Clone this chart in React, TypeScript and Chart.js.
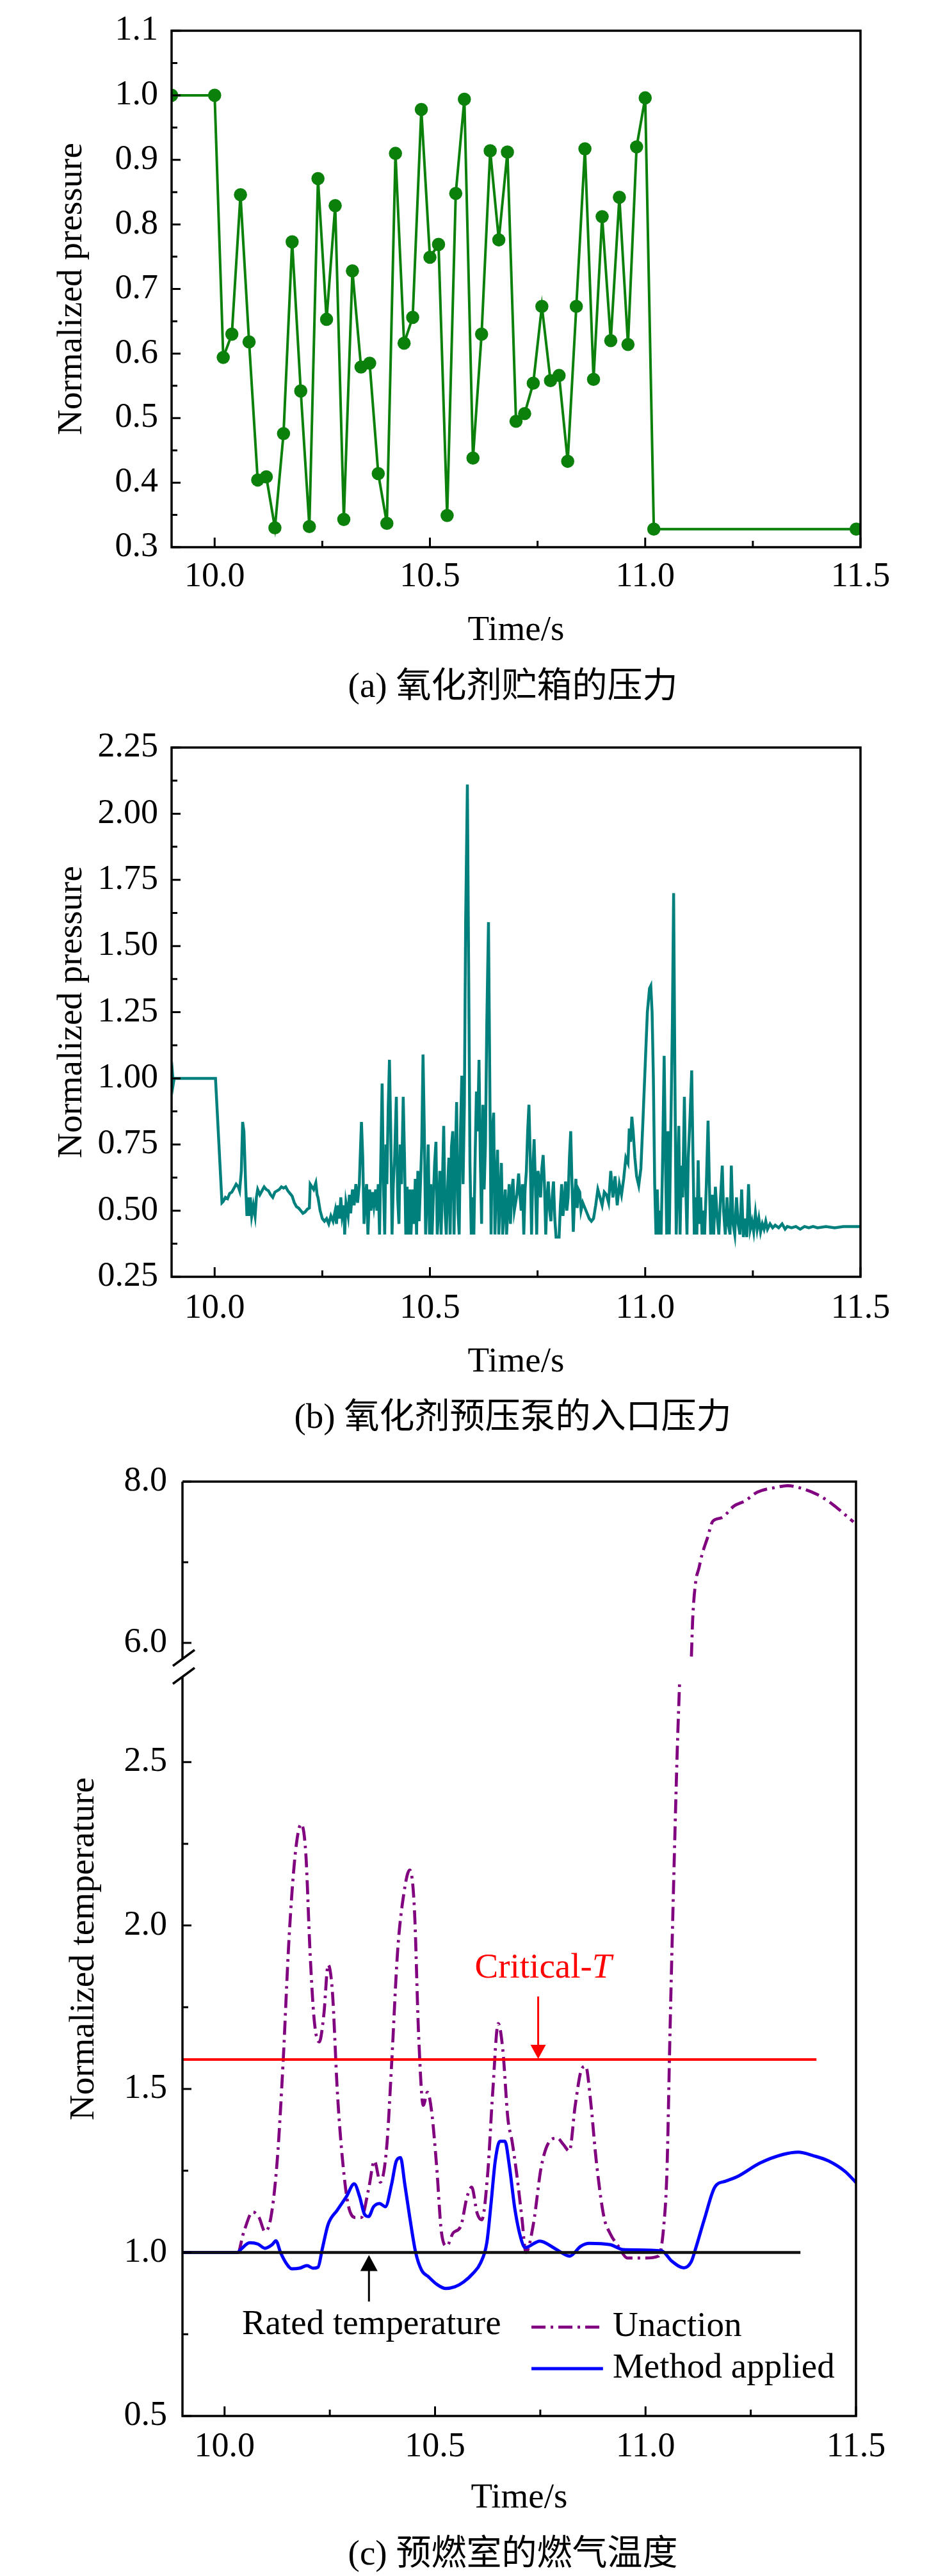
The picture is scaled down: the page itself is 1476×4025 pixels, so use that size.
import React, { useEffect, useRef } from 'react';
import { Chart, registerables } from 'chart.js';

Chart.register(...registerables);

const SERIF = '"Liberation Serif", "Times New Roman", serif';
const CAPTION_FONT = '"Liberation Serif", "Noto Sans CJK SC", serif';

const GREEN = '#0b800b';
const TEAL = '#00807d';
const PURPLE = '#800080';
const BLUE = '#0000ff';
const RED = '#ff0000';

// shared time axis
const TIME_MIN = 9.9;
const TIME_MAX = 11.5;
const timeTicks = [10.0, 10.5, 11.0, 11.5];
const timeMinorTicks = [10.25, 10.75, 11.25];

// (a) oxidizer tank pressure
const tankTime = [
  9.9, 10.0, 10.02, 10.04, 10.06, 10.08, 10.1, 10.12, 10.14, 10.16,
  10.18, 10.2, 10.22, 10.24, 10.26, 10.28, 10.3, 10.32, 10.34, 10.36,
  10.38, 10.4, 10.42, 10.44, 10.46, 10.48, 10.5, 10.52, 10.54, 10.56,
  10.58, 10.6, 10.62, 10.64, 10.66, 10.68, 10.7, 10.72, 10.74, 10.76,
  10.78, 10.8, 10.82, 10.84, 10.86, 10.88, 10.9, 10.92, 10.94, 10.96,
  10.98, 11.0, 11.02, 11.49,
];
const tankPressure = [
  1.0, 1.0, 0.594, 0.63, 0.846, 0.618, 0.404, 0.409, 0.33, 0.476,
  0.773, 0.542, 0.332, 0.871, 0.653, 0.829, 0.343, 0.728, 0.579, 0.585,
  0.414, 0.337, 0.91, 0.616, 0.656, 0.978, 0.749, 0.769, 0.349, 0.848,
  0.994, 0.438, 0.63, 0.914, 0.776, 0.912, 0.495, 0.507, 0.554, 0.673,
  0.558, 0.566, 0.433, 0.673, 0.917, 0.56, 0.812, 0.62, 0.842, 0.614,
  0.92, 0.996, 0.328, 0.328,
];
const tankTicks = [0.3, 0.4, 0.5, 0.6, 0.7, 0.8, 0.9, 1.0, 1.1];
const tankMinorTicks = [0.35, 0.45, 0.55, 0.65, 0.75, 0.85, 0.95, 1.05];

// (b) oxidizer booster pump inlet pressure
const pumpTime = [
  9.9, 9.902, 9.904, 9.906, 10.002, 10.017, 10.02, 10.025, 10.03, 10.035,
  10.04, 10.045, 10.05, 10.055, 10.058, 10.062, 10.065, 10.068, 10.072, 10.075,
  10.078, 10.08, 10.083, 10.086, 10.09, 10.094, 10.097, 10.1, 10.105, 10.11,
  10.115, 10.12, 10.125, 10.13, 10.135, 10.14, 10.145, 10.15, 10.155, 10.16,
  10.165, 10.17, 10.175, 10.18, 10.185, 10.19, 10.195, 10.2, 10.205, 10.21,
  10.215, 10.22, 10.222, 10.226, 10.23, 10.235, 10.238, 10.24, 10.245, 10.25,
  10.255, 10.26, 10.265, 10.27, 10.275, 10.28, 10.283, 10.286, 10.29, 10.293,
  10.296, 10.3, 10.302, 10.305, 10.31, 10.313, 10.316, 10.32, 10.324, 10.328,
  10.332, 10.336, 10.338, 10.341, 10.344, 10.347, 10.35, 10.353, 10.356, 10.36,
  10.363, 10.367, 10.37, 10.374, 10.377, 10.38, 10.383, 10.386, 10.389, 10.392,
  10.395, 10.398, 10.4, 10.403, 10.406, 10.409, 10.412, 10.415, 10.418, 10.422,
  10.425, 10.428, 10.431, 10.434, 10.438, 10.441, 10.444, 10.447, 10.45, 10.453,
  10.456, 10.46, 10.463, 10.466, 10.469, 10.472, 10.475, 10.478, 10.481, 10.484,
  10.487, 10.49, 10.493, 10.496, 10.499, 10.502, 10.505, 10.508, 10.511, 10.514,
  10.517, 10.52, 10.523, 10.526, 10.529, 10.532, 10.535, 10.538, 10.541, 10.544,
  10.547, 10.55, 10.553, 10.556, 10.559, 10.562, 10.565, 10.568, 10.571, 10.574,
  10.577, 10.58, 10.583, 10.587, 10.59, 10.593, 10.596, 10.599, 10.602, 10.605,
  10.608, 10.611, 10.614, 10.617, 10.62, 10.623, 10.626, 10.629, 10.632, 10.636,
  10.639, 10.642, 10.645, 10.648, 10.651, 10.654, 10.657, 10.66, 10.663, 10.666,
  10.669, 10.672, 10.675, 10.678, 10.681, 10.684, 10.687, 10.69, 10.693, 10.696,
  10.699, 10.702, 10.706, 10.709, 10.712, 10.715, 10.718, 10.721, 10.724, 10.727,
  10.73, 10.733, 10.736, 10.739, 10.742, 10.745, 10.748, 10.751, 10.754, 10.757,
  10.76, 10.763, 10.766, 10.769, 10.772, 10.775, 10.778, 10.781, 10.784, 10.787,
  10.79, 10.793, 10.797, 10.8, 10.803, 10.806, 10.809, 10.812, 10.815, 10.818,
  10.821, 10.824, 10.827, 10.83, 10.833, 10.836, 10.839, 10.842, 10.845, 10.848,
  10.851, 10.855, 10.86, 10.865, 10.87, 10.875, 10.88, 10.885, 10.89, 10.895,
  10.9, 10.905, 10.91, 10.915, 10.92, 10.925, 10.93, 10.935, 10.94, 10.945,
  10.95, 10.955, 10.96, 10.963, 10.966, 10.969, 10.972, 10.976, 10.98, 10.985,
  10.99, 10.995, 11.0, 11.005, 11.01, 11.013, 11.016, 11.019, 11.022, 11.025,
  11.028, 11.031, 11.034, 11.037, 11.04, 11.044, 11.047, 11.05, 11.053, 11.056,
  11.059, 11.063, 11.066, 11.069, 11.072, 11.075, 11.078, 11.081, 11.084, 11.087,
  11.091, 11.094, 11.097, 11.1, 11.104, 11.108, 11.111, 11.114, 11.117, 11.12,
  11.123, 11.126, 11.129, 11.132, 11.135, 11.138, 11.142, 11.146, 11.149, 11.152,
  11.156, 11.159, 11.163, 11.167, 11.171, 11.175, 11.179, 11.182, 11.186, 11.19,
  11.193, 11.197, 11.2, 11.204, 11.208, 11.212, 11.216, 11.22, 11.224, 11.228,
  11.232, 11.236, 11.24, 11.244, 11.248, 11.252, 11.256, 11.26, 11.264, 11.268,
  11.272, 11.276, 11.28, 11.284, 11.29, 11.296, 11.302, 11.31, 11.318, 11.325,
  11.33, 11.34, 11.35, 11.36, 11.37, 11.38, 11.39, 11.4, 11.42, 11.44,
  11.46, 11.48, 11.5,
];
const pumpPressure = [
  1.0, 1.02, 0.98, 1.0, 1.0, 0.53, 0.535, 0.55, 0.545, 0.565,
  0.57, 0.585, 0.6, 0.59, 0.575, 0.65, 0.835, 0.8, 0.6, 0.48,
  0.55, 0.48, 0.55, 0.48, 0.52, 0.48, 0.55, 0.58, 0.56, 0.575,
  0.59, 0.58, 0.575, 0.56, 0.55, 0.57, 0.575, 0.58, 0.59, 0.585,
  0.59, 0.575, 0.565, 0.555, 0.53, 0.515, 0.51, 0.5, 0.49, 0.495,
  0.505, 0.51, 0.6, 0.59, 0.58, 0.605, 0.56, 0.55, 0.5, 0.47,
  0.46, 0.47, 0.45, 0.48, 0.46, 0.5, 0.45, 0.52, 0.47, 0.55,
  0.48, 0.52, 0.41, 0.53, 0.48, 0.56, 0.49, 0.58, 0.52, 0.6,
  0.53, 0.6, 0.7, 0.835, 0.7, 0.45, 0.55, 0.6, 0.41, 0.58,
  0.5, 0.57, 0.52, 0.58, 0.5, 0.6, 0.41, 0.7, 0.98, 0.6,
  0.41, 0.75, 0.6, 0.88, 1.07, 0.8, 0.41, 0.6, 0.7, 0.93,
  0.55, 0.45, 0.75, 0.6, 0.93, 0.7, 0.41, 0.59, 0.41, 0.58,
  0.41, 0.58, 0.45, 0.62, 0.41, 0.65, 0.46, 0.6, 0.75, 1.09,
  0.8, 0.41, 0.55, 0.75, 0.41, 0.6, 0.41, 0.55, 0.68, 0.76,
  0.41, 0.5, 0.65, 0.41, 0.6, 0.82, 0.5, 0.41, 0.58, 0.7,
  0.41, 0.74, 0.8, 0.41, 0.7, 0.91, 0.5, 0.41, 0.8, 1.01,
  0.6, 0.9, 1.6, 2.11, 1.4, 0.68, 0.41, 0.55, 0.41, 0.7,
  0.95, 0.8, 1.07, 0.7, 0.45, 0.9, 0.58, 0.75, 1.2, 1.59,
  1.0, 0.41, 0.8, 0.87, 0.41, 0.6, 0.73, 0.41, 0.55, 0.68,
  0.41, 0.5, 0.58, 0.41, 0.5, 0.6, 0.45, 0.57, 0.62, 0.5,
  0.53, 0.56, 0.64, 0.56, 0.5, 0.6, 0.41, 0.58, 0.65, 0.8,
  0.9, 0.7, 0.41, 0.65, 0.77, 0.6, 0.41, 0.65, 0.62, 0.55,
  0.66, 0.71, 0.6, 0.41, 0.55, 0.61, 0.5, 0.46, 0.55, 0.61,
  0.47, 0.4, 0.4, 0.4, 0.52, 0.6, 0.48, 0.53, 0.61, 0.5,
  0.55, 0.7, 0.8, 0.6, 0.42, 0.55, 0.62, 0.51, 0.58, 0.57,
  0.5, 0.53, 0.51, 0.49, 0.47, 0.46, 0.47, 0.52, 0.58, 0.55,
  0.52, 0.57, 0.56, 0.53, 0.65, 0.55, 0.63, 0.52, 0.6, 0.56,
  0.62, 0.7, 0.68, 0.81, 0.76, 0.855, 0.8, 0.7, 0.63, 0.595,
  0.66, 0.85, 1.05, 1.25, 1.34, 1.35, 1.25, 1.0, 0.6, 0.41,
  0.58, 0.41, 0.5, 0.41, 0.65, 1.085, 0.7, 0.41, 0.8, 0.41,
  0.75, 1.2, 1.7, 1.0, 0.41, 0.6, 0.82, 0.41, 0.67, 0.55,
  0.93, 0.6, 0.41, 0.7, 0.85, 1.03, 0.7, 0.41, 0.55, 0.41,
  0.69, 0.45, 0.55, 0.41, 0.5, 0.41, 0.6, 0.84, 0.6, 0.41,
  0.56, 0.41, 0.59, 0.48, 0.41, 0.55, 0.67, 0.5, 0.41, 0.55,
  0.45, 0.41, 0.67, 0.45, 0.41, 0.55, 0.45, 0.41, 0.58, 0.4,
  0.47, 0.4, 0.6, 0.43, 0.46, 0.42, 0.49, 0.43, 0.47, 0.42,
  0.45, 0.43, 0.46, 0.43, 0.45, 0.435, 0.445, 0.435, 0.45, 0.43,
  0.44, 0.435, 0.44, 0.43, 0.44, 0.435, 0.44, 0.435, 0.44, 0.435,
  0.44, 0.44, 0.44,
];
const pumpTicks = [0.25, 0.5, 0.75, 1.0, 1.25, 1.5, 1.75, 2.0, 2.25];
const pumpMinorTicks = [0.375, 0.625, 0.875, 1.125, 1.375, 1.625, 1.875, 2.125];

// (c) pre-burner gas temperature
const unactionTime = [
  9.9, 10.031, 10.046, 10.067, 10.082, 10.096, 10.11, 10.125, 10.139, 10.153,
  10.168, 10.182, 10.193, 10.203, 10.213, 10.225, 10.236, 10.246, 10.256, 10.268,
  10.279, 10.293, 10.311, 10.325, 10.342, 10.356, 10.37, 10.385, 10.397, 10.411,
  10.425, 10.44, 10.451, 10.461, 10.472, 10.482, 10.492, 10.504, 10.515, 10.528,
  10.543, 10.561, 10.576, 10.587, 10.6, 10.611, 10.625, 10.637, 10.65, 10.661,
  10.673, 10.683, 10.694, 10.706, 10.716, 10.734, 10.752, 10.772, 10.79, 10.805,
  10.819, 10.833, 10.848, 10.858, 10.869, 10.883, 10.901, 10.916, 10.935, 10.957,
  10.995, 11.031, 11.043, 11.051, 11.058, 11.066, 11.075, 11.081, 11.109, 11.112,
  11.119, 11.127, 11.134, 11.147, 11.16, 11.18, 11.211, 11.236, 11.266, 11.312,
  11.337, 11.368, 11.408, 11.444, 11.474, 11.494,
];
const unactionTemp = [
  1.0, 1.0, 1.064, 1.124, 1.107, 1.064, 1.107, 1.28, 1.58, 1.957,
  2.22, 2.31, 2.22, 1.92, 1.71, 1.644, 1.73, 1.88, 1.8, 1.49,
  1.3, 1.15, 1.107, 1.107, 1.193, 1.28, 1.215, 1.32, 1.58, 1.92,
  2.09, 2.17, 2.05, 1.665, 1.45, 1.49, 1.43, 1.26, 1.064, 1.02,
  1.06, 1.08, 1.17, 1.2, 1.12, 1.1, 1.24, 1.49, 1.7, 1.62,
  1.41, 1.34, 1.24, 1.11, 1.0, 1.09, 1.26, 1.34, 1.35, 1.33,
  1.31, 1.45, 1.56, 1.57, 1.47, 1.28, 1.11, 1.058, 1.02, 0.983,
  0.983, 0.989, 1.077, 1.253, 1.665, 2.09, 2.52, 2.747, 5.83, 6.29,
  6.75, 6.93, 7.09, 7.3, 7.51, 7.55, 7.7, 7.76, 7.87, 7.93,
  7.95, 7.92, 7.84, 7.72, 7.59, 7.5,
];
const methodTime = [
  9.9, 10.031, 10.039, 10.06, 10.079, 10.096, 10.113, 10.122, 10.133, 10.146,
  10.16, 10.178, 10.196, 10.21, 10.222, 10.232, 10.246, 10.268, 10.289, 10.308,
  10.321, 10.332, 10.342, 10.354, 10.368, 10.382, 10.397, 10.408, 10.418, 10.428,
  10.44, 10.454, 10.468, 10.485, 10.504, 10.525, 10.547, 10.568, 10.59, 10.608,
  10.623, 10.633, 10.643, 10.654, 10.666, 10.676, 10.69, 10.704, 10.714, 10.749,
  10.785, 10.82, 10.846, 10.866, 10.916, 10.947, 11.038, 11.063, 11.091, 11.109,
  11.119, 11.14, 11.165, 11.19, 11.221, 11.271, 11.327, 11.363, 11.399, 11.435,
  11.474, 11.5,
];
const methodTemp = [
  1.0, 1.0, 1.01, 1.03, 1.026, 1.013, 1.024, 1.036, 1.0, 0.968,
  0.95, 0.952, 0.96, 0.952, 0.955, 1.01, 1.086, 1.13, 1.17, 1.21,
  1.17, 1.118, 1.11, 1.14, 1.15, 1.14, 1.21, 1.28, 1.29, 1.21,
  1.107, 1.0, 0.946, 0.925, 0.903, 0.89, 0.895, 0.91, 0.936, 0.968,
  1.03, 1.15, 1.28, 1.34, 1.34, 1.27, 1.13, 1.043, 1.015, 1.035,
  1.012, 0.989, 1.019, 1.028, 1.024, 1.009, 1.005, 0.973, 0.953, 0.973,
  1.012, 1.103, 1.201, 1.218, 1.234, 1.273, 1.3, 1.307, 1.296, 1.28,
  1.248, 1.214,
];
const criticalTime = [9.9, 11.406];
const criticalTemp = [1.59, 1.59];
const ratedTime = [9.9, 11.368];
const ratedTemp = [1.0, 1.0];
const tempLowTicks = [0.5, 1.0, 1.5, 2.0, 2.5];
const tempLowMinorTicks = [0.75, 1.25, 1.75, 2.25];
const tempHighTicks = [6.0, 8.0];
const tempHighMinorTicks = [7.0];
const TEMP_LOW_MAX = 2.788;
const TEMP_HIGH_MIN = 5.69;

const pts = (xs: number[], ys: number[]) => xs.map((x, i) => ({ x, y: ys[i] }));

const tickFont = { family: SERIF, size: 54, lineHeight: 1 };
const titleFont = { family: SERIF, size: 55, lineHeight: 1.2 };

const timeAxis = (labelPad: number, titlePad: number, height: number) => ({
  type: 'linear',
  min: TIME_MIN,
  max: TIME_MAX,
  grid: { display: false, drawTicks: false },
  border: { display: false },
  afterBuildTicks: (s: any) => {
    s.ticks = timeTicks.map((v) => ({ value: v }));
  },
  afterFit: (s: any) => {
    s.height = height;
  },
  ticks: {
    color: '#000',
    font: tickFont,
    padding: labelPad,
    maxRotation: 0,
    autoSkip: false,
    callback: (v: any) => Number(v).toFixed(1),
  },
  title: {
    display: true,
    text: 'Time/s',
    color: '#000',
    font: titleFont,
    padding: { top: 0, bottom: titlePad },
  },
});

const valueAxis = (
  min: number,
  max: number,
  ticks: number[],
  digits: number,
  width: number,
  labelPad: number,
  extra: any = {}
) => ({
  type: 'linear',
  min,
  max,
  grid: { display: false, drawTicks: false },
  border: { display: false },
  afterBuildTicks: (s: any) => {
    s.ticks = ticks.map((v) => ({ value: v }));
  },
  afterFit: (s: any) => {
    s.width = width;
  },
  ticks: {
    color: '#000',
    font: tickFont,
    padding: labelPad,
    autoSkip: false,
    callback: (v: any) => Number(v).toFixed(digits),
  },
  ...extra,
});

interface AxisTicks {
  id: string;
  major: number[];
  minor: number[];
}

// inward ticks and the box round the plot
const framePlugin = (yAxes: AxisTicks[], broken: boolean) => ({
  id: 'frameTicks',
  afterDatasetsDraw(chart: any) {
    const { ctx, chartArea: a, scales } = chart;
    ctx.save();
    ctx.strokeStyle = '#000';
    ctx.lineWidth = 3;
    ctx.beginPath();
    timeTicks.forEach((v) => {
      const p = scales.x.getPixelForValue(v);
      ctx.moveTo(p, a.bottom);
      ctx.lineTo(p, a.bottom - 15);
    });
    timeMinorTicks.forEach((v) => {
      const p = scales.x.getPixelForValue(v);
      ctx.moveTo(p, a.bottom);
      ctx.lineTo(p, a.bottom - 10);
    });
    yAxes.forEach((ax) => {
      const s = scales[ax.id];
      ax.major.forEach((v) => {
        const p = s.getPixelForValue(v);
        ctx.moveTo(a.left, p);
        ctx.lineTo(a.left + 14, p);
      });
      ax.minor.forEach((v) => {
        const p = s.getPixelForValue(v);
        ctx.moveTo(a.left, p);
        ctx.lineTo(a.left + 9, p);
      });
    });
    ctx.stroke();

    ctx.lineWidth = 3.5;
    ctx.beginPath();
    ctx.moveTo(a.left, a.top);
    ctx.lineTo(a.right, a.top);
    ctx.lineTo(a.right, a.bottom);
    ctx.lineTo(a.left, a.bottom);
    if (broken) {
      const c = scales.yHigh.bottom;
      ctx.lineTo(a.left, c + 14);
      ctx.moveTo(a.left, c - 13);
      ctx.lineTo(a.left, a.top);
      ctx.stroke();
      ctx.beginPath();
      ctx.moveTo(a.left - 15, c - 3);
      ctx.lineTo(a.left + 19, c - 28);
      ctx.moveTo(a.left - 15, c + 25);
      ctx.lineTo(a.left + 19, c);
      ctx.stroke();
    } else {
      ctx.closePath();
      ctx.stroke();
    }
    ctx.restore();
  },
});

// annotation positions, in axis units (time, temperature)
const criticalLabelAt = [10.757, 1.869];
const criticalArrow = [10.745, 1.783, 1.592];
const ratedLabelAt = [10.349, 0.778];
const ratedArrow = [10.343, 0.85, 0.992];
const legendLine = [10.729, 10.899];
const legendTextTime = 10.922;
const legendRows = [0.772, 0.645];
const UNACTION_DASH = [22, 8, 4, 8];

const drawArrow = (ctx: any, x: number, y0: number, y1: number, color: string, hw: number, hl: number) => {
  const dir = y1 > y0 ? 1 : -1;
  ctx.strokeStyle = color;
  ctx.fillStyle = color;
  ctx.lineWidth = 3;
  ctx.beginPath();
  ctx.moveTo(x, y0);
  ctx.lineTo(x, y1 - dir * hl * 0.8);
  ctx.stroke();
  ctx.beginPath();
  ctx.moveTo(x, y1);
  ctx.lineTo(x - hw / 2, y1 - dir * hl);
  ctx.lineTo(x + hw / 2, y1 - dir * hl);
  ctx.closePath();
  ctx.fill();
};

const notesPlugin = {
  id: 'notes',
  afterDraw(chart: any) {
    const { ctx, chartArea: a } = chart;
    const xs = chart.scales.x;
    const ys = chart.scales.yLow;
    const px = (t: number) => xs.getPixelForValue(t);
    const py = (v: number) => ys.getPixelForValue(v);
    ctx.save();
    ctx.textBaseline = 'middle';

    // y title spans both parts of the broken axis
    ctx.save();
    ctx.translate(132, (a.top + a.bottom) / 2);
    ctx.rotate(-Math.PI / 2);
    ctx.textAlign = 'center';
    ctx.fillStyle = '#000';
    ctx.font = `55px ${SERIF}`;
    ctx.fillText('Normalized temperature', 0, 0);
    ctx.restore();

    // Critical-T
    const upright = `55px ${SERIF}`;
    const italic = `italic 55px ${SERIF}`;
    ctx.font = upright;
    const w1 = ctx.measureText('Critical-').width;
    ctx.font = italic;
    const w2 = ctx.measureText('T').width;
    const sx = px(criticalLabelAt[0]) - (w1 + w2) / 2;
    const sy = py(criticalLabelAt[1]);
    ctx.textAlign = 'left';
    ctx.fillStyle = RED;
    ctx.font = upright;
    ctx.fillText('Critical-', sx, sy);
    ctx.font = italic;
    ctx.fillText('T', sx + w1, sy);
    drawArrow(ctx, px(criticalArrow[0]), py(criticalArrow[1]), py(criticalArrow[2]), RED, 24, 22);

    // Rated temperature
    ctx.font = upright;
    ctx.fillStyle = '#000';
    ctx.textAlign = 'center';
    ctx.fillText('Rated temperature', px(ratedLabelAt[0]), py(ratedLabelAt[1]));
    drawArrow(ctx, px(ratedArrow[0]), py(ratedArrow[1]), py(ratedArrow[2]), '#000', 27, 25);

    // legend
    const lx0 = px(legendLine[0]);
    const lx1 = px(legendLine[1]);
    ctx.lineCap = 'butt';
    ctx.strokeStyle = PURPLE;
    ctx.lineWidth = 4.7;
    ctx.setLineDash(UNACTION_DASH);
    ctx.beginPath();
    ctx.moveTo(lx0, py(legendRows[0]));
    ctx.lineTo(lx1, py(legendRows[0]));
    ctx.stroke();
    ctx.setLineDash([]);
    ctx.strokeStyle = BLUE;
    ctx.lineWidth = 5;
    ctx.beginPath();
    ctx.moveTo(lx0, py(legendRows[1]));
    ctx.lineTo(lx1, py(legendRows[1]));
    ctx.stroke();
    ctx.textAlign = 'left';
    ctx.fillStyle = '#000';
    ctx.fillText('Unaction', px(legendTextTime), py(legendRows[0]));
    ctx.fillText('Method applied', px(legendTextTime), py(legendRows[1]));
    ctx.restore();
  },
};

const baseOptions = (padTop: number, padRight: number) => ({
  animation: false,
  responsive: false,
  devicePixelRatio: 1,
  layout: { padding: { top: padTop, right: padRight, left: 0, bottom: 0 } },
  plugins: { legend: { display: false }, tooltip: { enabled: false } },
});

const tankConfig = () => ({
  type: 'line',
  data: {
    datasets: [
      {
        data: pts(tankTime, tankPressure),
        borderColor: GREEN,
        backgroundColor: GREEN,
        borderWidth: 4,
        pointRadius: 10.3,
        pointBorderWidth: 0,
        pointBackgroundColor: GREEN,
        tension: 0,
      },
    ],
  },
  options: {
    ...baseOptions(28, 132),
    scales: {
      x: timeAxis(20, 1, 165),
      y: valueAxis(0.3, 1.1, tankTicks, 1, 268, 21, {
        title: { display: true, text: 'Normalized pressure', color: '#000', font: titleFont, padding: { top: 80, bottom: 0 } },
      }),
    },
  },
  plugins: [framePlugin([{ id: 'y', major: tankTicks, minor: tankMinorTicks }], false)],
});

const pumpConfig = () => ({
  type: 'line',
  data: {
    datasets: [
      {
        data: pts(pumpTime, pumpPressure),
        borderColor: TEAL,
        borderWidth: 4.5,
        pointRadius: 0,
        tension: 0,
      },
    ],
  },
  options: {
    ...baseOptions(58, 132),
    scales: {
      x: timeAxis(23, 1, 168),
      y: valueAxis(0.25, 2.25, pumpTicks, 2, 268, 21, {
        title: { display: true, text: 'Normalized pressure', color: '#000', font: titleFont, padding: { top: 80, bottom: 0 } },
      }),
    },
  },
  plugins: [framePlugin([{ id: 'y', major: pumpTicks, minor: pumpMinorTicks }], false)],
});

const tempConfig = () => {
  const unaction = pts(unactionTime, unactionTemp);
  return {
    type: 'line',
    data: {
      datasets: [
        { data: pts(ratedTime, ratedTemp), yAxisID: 'yLow', borderColor: '#111', borderWidth: 4.5, pointRadius: 0 },
        { data: pts(criticalTime, criticalTemp), yAxisID: 'yLow', borderColor: RED, borderWidth: 4, pointRadius: 0 },
        {
          data: pts(methodTime, methodTemp),
          yAxisID: 'yLow',
          borderColor: BLUE,
          borderWidth: 5,
          pointRadius: 0,
          cubicInterpolationMode: 'monotone',
        },
        {
          data: unaction.filter((p) => p.y <= TEMP_LOW_MAX),
          yAxisID: 'yLow',
          borderColor: PURPLE,
          borderWidth: 4.7,
          borderDash: UNACTION_DASH,
          pointRadius: 0,
          cubicInterpolationMode: 'monotone',
        },
        {
          data: unaction.filter((p) => p.y >= TEMP_HIGH_MIN),
          yAxisID: 'yHigh',
          borderColor: PURPLE,
          borderWidth: 4.7,
          borderDash: UNACTION_DASH,
          pointRadius: 0,
          cubicInterpolationMode: 'monotone',
        },
      ],
    },
    options: {
      ...baseOptions(75, 139),
      scales: {
        x: timeAxis(22, 3, 165),
        yLow: valueAxis(0.5, TEMP_LOW_MAX, tempLowTicks, 1, 285, 24, {
          position: 'left',
          stack: 'temp',
          stackWeight: 1169,
          weight: 0,
        }),
        yHigh: valueAxis(TEMP_HIGH_MIN, 8.0, tempHighTicks, 1, 285, 24, {
          position: 'left',
          stack: 'temp',
          stackWeight: 291,
          weight: 1,
        }),
      },
    },
    plugins: [
      framePlugin(
        [
          { id: 'yLow', major: tempLowTicks, minor: tempLowMinorTicks },
          { id: 'yHigh', major: tempHighTicks, minor: tempHighMinorTicks },
        ],
        true
      ),
      notesPlugin,
    ],
  };
};

const Panel = ({ top, height, config }: { top: number; height: number; config: () => any }) => {
  const ref = useRef<HTMLCanvasElement | null>(null);

  useEffect(() => {
    let chart: Chart | null = null;
    if (ref.current) {
      chart = new Chart(ref.current, config());
    }
    return () => {
      if (chart) chart.destroy();
    };
  }, [config]);

  return (
    <canvas
      ref={ref}
      width={1476}
      height={height}
      style={{ position: 'absolute', left: 0, top, width: 1476, height }}
    />
  );
};

const Caption = ({ y, text }: { y: number; text: string }) => (
  <div
    style={{
      position: 'absolute',
      left: 0,
      top: y - 33,
      width: 1602,
      textAlign: 'center',
      fontFamily: CAPTION_FONT,
      fontSize: 55,
      lineHeight: '66px',
      color: '#000',
      whiteSpace: 'nowrap',
    }}
  >
    {text}
  </div>
);

export default function App() {
  return (
    <div style={{ position: 'absolute', left: 0, top: 0, width: 1476, height: 4025, background: '#fff', overflow: 'hidden' }}>
      <Panel top={0} height={1020} config={tankConfig} />
      <Caption y={1071} text="(a) 氧化剂贮箱的压力" />
      <Panel top={1110} height={1053} config={pumpConfig} />
      <Caption y={2213} text="(b) 氧化剂预压泵的入口压力" />
      <Panel top={2240} height={1700} config={tempConfig} />
      <Caption y={3989} text="(c) 预燃室的燃气温度" />
    </div>
  );
}
